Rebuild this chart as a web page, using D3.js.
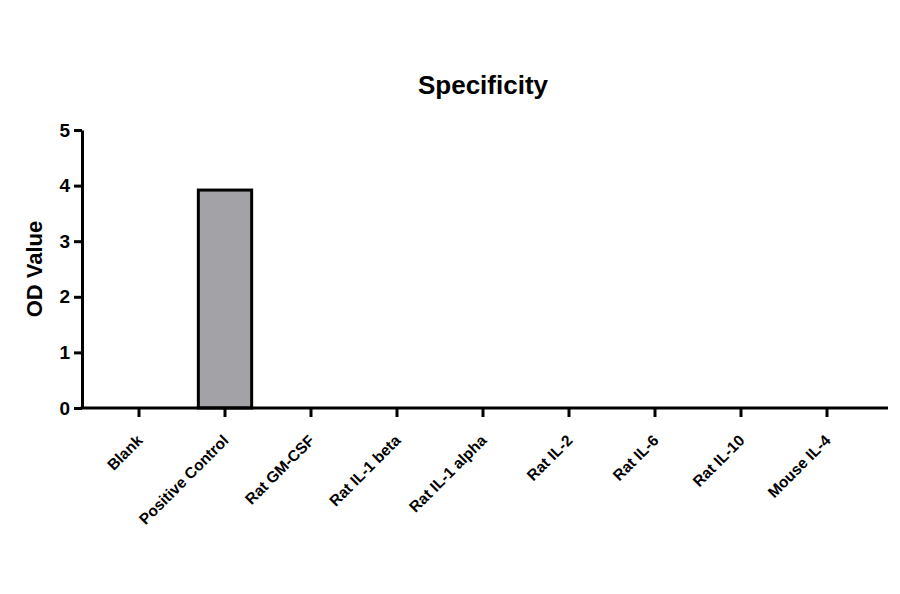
<!DOCTYPE html>
<html>
<head>
<meta charset="utf-8">
<script src="https://cdn.jsdelivr.net/npm/d3@7"></script>
<style>
    body { margin: 0; background: #fff; }
    svg { font-family: "Liberation Sans", Arial, sans-serif; }
</style>
</head>
<body>
<div id="chart"></div>
<script>
    var categories = [
        'Blank', 'Positive Control', 'Rat GM-CSF', 'Rat IL-1 beta', 'Rat IL-1 alpha',
        'Rat IL-2', 'Rat IL-6', 'Rat IL-10', 'Mouse IL-4'
    ];
    var odValues = [0, 3.92, 0, 0, 0, 0, 0, 0, 0];
    var yTicks = [0, 1, 2, 3, 4, 5];

    var WIDTH = 900, HEIGHT = 594;
    var AXIS_LEFT = 82, AXIS_RIGHT = 888, AXIS_TOP = 130, AXIS_BOTTOM = 408;

    var svg = d3.select('#chart').append('svg')
        .attr('width', WIDTH)
        .attr('height', HEIGHT);

    var x = d3.scaleBand()
        .domain(categories)
        .range([96, 870])
        .paddingInner(0.38)
        .paddingOuter(0.19);

    var y = d3.scaleLinear()
        .domain([0, 5])
        .range([AXIS_BOTTOM, AXIS_TOP]);

    // bars
    svg.append('g').selectAll('rect')
        .data(odValues.map(function(v, i) { return {name: categories[i], value: v}; }))
        .enter().append('rect')
        .filter(function(d) { return d.value > 0; })
        .attr('x', function(d) { return x(d.name); })
        .attr('y', function(d) { return y(d.value); })
        .attr('width', x.bandwidth())
        .attr('height', function(d) { return y(0) - y(d.value); })
        .attr('fill', '#a3a3a7')
        .attr('stroke', '#000')
        .attr('stroke-width', 3);

    // y axis
    var yAxis = svg.append('g')
        .attr('transform', 'translate(' + AXIS_LEFT + ',0)')
        .call(d3.axisLeft(y).tickValues(yTicks).tickFormat(d3.format('d'))
            .tickSize(8).tickPadding(4).tickSizeOuter(0));
    yAxis.select('.domain').attr('stroke-width', 3);
    yAxis.selectAll('.tick line').attr('stroke-width', 3);
    yAxis.selectAll('.tick text')
        .attr('font-size', 19)
        .attr('font-weight', 'bold')
        .attr('fill', '#000');

    // x axis
    var xAxis = svg.append('g')
        .attr('transform', 'translate(0,' + AXIS_BOTTOM + ')')
        .call(d3.axisBottom(x).tickSize(9).tickSizeOuter(0));
    xAxis.select('.domain')
        .attr('d', 'M' + (AXIS_LEFT - 1.5) + ',0H' + AXIS_RIGHT)
        .attr('stroke-width', 3);
    xAxis.selectAll('.tick line').attr('stroke-width', 3);
    xAxis.selectAll('.tick text')
        .attr('font-size', 15.5)
        .attr('font-weight', 'bold')
        .attr('fill', '#000')
        .style('text-anchor', 'end')
        .attr('dx', 0)
        .attr('dy', 0)
        .attr('transform', 'translate(-4,25) rotate(-45)');

    // title
    svg.append('text')
        .attr('x', 483)
        .attr('y', 94)
        .attr('text-anchor', 'middle')
        .attr('font-size', 26)
        .attr('font-weight', 'bold')
        .text('Specificity');

    // y label
    svg.append('text')
        .attr('transform', 'translate(42,' + ((AXIS_TOP + AXIS_BOTTOM) / 2) + ') rotate(-90)')
        .attr('text-anchor', 'middle')
        .attr('font-size', 22)
        .attr('font-weight', 'bold')
        .text('OD Value');
</script>
</body>
</html>
